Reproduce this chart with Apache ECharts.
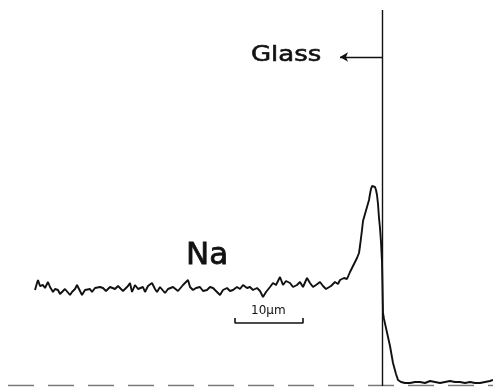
<!DOCTYPE html>
<html>
<head>
<meta charset="utf-8">
<script src="https://cdn.jsdelivr.net/npm/echarts@6/dist/echarts.min.js"></script>
<style>
  html, body { margin: 0; padding: 0; background: #fff; }
  #chart { width: 493px; height: 387px; }
</style>
</head>
<body>
<div id="chart"></div>
<script>
// Na line scan across the glass interface.
// Position in scan steps (68 steps = 10 μm), intensity in arbitrary counts.
const scanPos = [
  35, 37, 38, 40, 43, 45, 48, 50, 53, 55, 58, 60, 62, 65, 67, 70, 72, 75, 77, 80,
  82, 85, 87, 90, 92, 95, 97, 100, 103, 106, 110, 112, 115, 118, 120, 123, 125, 128, 130, 132,
  135, 138, 140, 143, 145, 148, 152, 155, 157, 160, 162, 165, 168, 170, 173, 175, 178, 180, 183, 185,
  188, 190, 193, 196, 200, 203, 207, 210, 213, 216, 220, 223, 227, 230, 233, 237, 240, 243, 247, 250,
  253, 257, 260, 263, 266, 270, 273, 276, 280, 283, 286, 290, 293, 297, 300, 303, 307, 310, 313, 316,
  320, 323, 326, 328, 331, 335, 338, 340, 342, 344, 345, 347, 350, 352, 355, 357, 359, 360, 361, 362,
  363, 365, 367, 369, 370, 371, 372, 373, 374, 375, 376, 377, 378, 379, 380, 381, 382, 382.5, 383, 384,
  386, 388, 390, 393, 396, 398, 401, 405, 410, 415, 420, 425, 430, 435, 440, 445, 450, 455, 460, 465,
  470, 475, 480, 485, 490, 493
];
const naCounts = [
  96, 103, 106, 100, 101, 98, 104, 99, 94, 97, 96, 92, 93, 97, 96, 91, 94, 97, 101, 95,
  91, 96, 94, 97, 94, 98, 96, 99, 98, 95, 99, 97, 97, 100, 99, 95, 96, 100, 103, 94,
  101, 97, 96, 99, 94, 100, 103, 97, 94, 99, 101, 93, 97, 96, 99, 99, 95, 97, 101, 101,
  106, 99, 96, 98, 99, 95, 96, 99, 98, 95, 91, 96, 98, 95, 96, 99, 97, 101, 98, 99,
  96, 98, 95, 89, 94, 99, 103, 101, 109, 101, 105, 103, 99, 101, 104, 99, 108, 103, 99, 101,
  104, 100, 97, 96, 100, 104, 102, 106, 104, 108, 109, 107, 114, 118, 124, 128, 133, 140, 148, 156,
  165, 172, 179, 186, 192, 197, 200, 201, 201, 199, 196, 191, 182, 168, 158, 144, 124, 100, 73, 67,
  58, 49, 40, 23, 12, 6, 4, 3, 3, 4, 4, 3, 5, 4, 3, 4, 5, 4, 4, 3,
  4, 3, 3, 4, 5, 6
];

// Interface position, reference labels and the 10 μm scale bar
const interfacePos = 382;
const interfaceTop = 376;
const arrowLevel = 329;
const arrowEnd = 340;
const scaleBar = [235, 303];
const scaleBarLevel = 63;
const scaleTickHeight = 5;

const profile = scanPos.map((x, i) => [x, naCounts[i]]);

const chart = echarts.init(document.getElementById('chart'));
const ink = '#111';
const font = '"DejaVu Sans", "Noto Sans", sans-serif';

chart.setOption({
  animation: false,
  backgroundColor: '#fff',
  grid: { left: 0, right: 0, top: 0, bottom: 1 },
  xAxis: { type: 'value', min: 0, max: 493, show: false },
  yAxis: { type: 'value', min: 0, max: 386, show: false },
  series: [
    {
      type: 'line',
      data: profile,
      showSymbol: false,
      lineStyle: { color: ink, width: 1.9 },
      z: 3
    },
    {
      // interface marker and "Glass" arrow
      type: 'line',
      data: [],
      markLine: {
        silent: true,
        animation: false,
        label: { show: false },
        data: [
          [
            { coord: [interfacePos, 0], symbol: 'none' },
            { coord: [interfacePos, interfaceTop], symbol: 'none' }
          ],
          [
            { coord: [interfacePos, arrowLevel], symbol: 'none' },
            { coord: [arrowEnd, arrowLevel], symbol: 'arrow', symbolSize: [7, 8] }
          ]
        ],
        lineStyle: { color: ink, width: 1.4, type: 'solid' }
      }
    },
    {
      // scale bar with end ticks
      type: 'line',
      data: [
        [scaleBar[0], scaleBarLevel + scaleTickHeight],
        [scaleBar[0], scaleBarLevel],
        [scaleBar[1], scaleBarLevel],
        [scaleBar[1], scaleBarLevel + scaleTickHeight]
      ],
      showSymbol: false,
      lineStyle: { color: ink, width: 1.6 }
    },
    {
      // baseline
      type: 'line',
      data: [[8, 0.5], [493, 0.5]],
      showSymbol: false,
      lineStyle: { color: '#777', width: 1.5, type: [26, 14] },
      z: 1
    }
  ],
  graphic: [
    {
      type: 'text', x: 251, y: 44, scaleX: 1.18,
      style: { text: 'Glass', font: '22px ' + font, fill: ink, stroke: ink, lineWidth: 0.6 }
    },
    {
      type: 'text', x: 186, y: 240,
      style: { text: 'Na', font: '31px ' + font, fill: ink, stroke: ink, lineWidth: 0.8 }
    },
    {
      type: 'text', x: 251, y: 305,
      style: { text: '10μm', font: '12px ' + font, fill: ink }
    }
  ]
});
</script>
</body>
</html>
